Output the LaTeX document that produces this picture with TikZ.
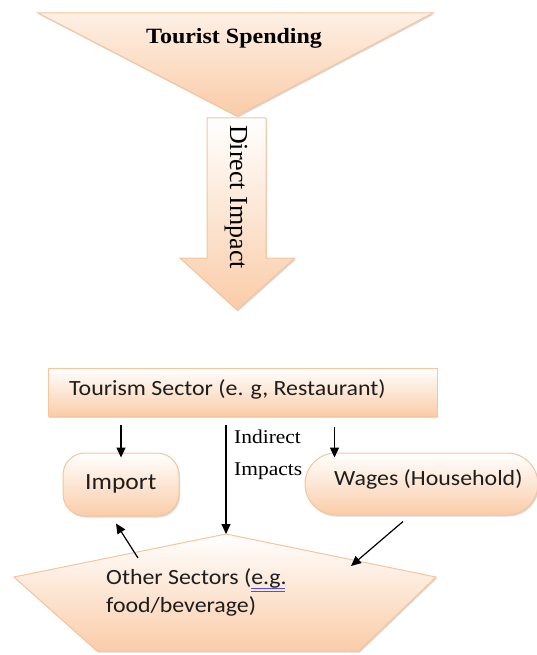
\documentclass[tikz,border=0pt]{standalone}
\usepackage{fontspec}
\newfontfamily\serifS{Liberation Serif}[FakeStretch=1.1]
\newfontfamily\serifN{Liberation Serif}
\newfontfamily\sansS{Carlito}[FakeStretch=1.1]
\usetikzlibrary{shadows,arrows.meta,calc}
\definecolor{peach}{RGB}{250,204,168}
\definecolor{peachedge}{RGB}{247,196,156}
\definecolor{textgray}{RGB}{30,30,30}
\begin{document}
\begin{tikzpicture}[x=1pt,y=-1pt,
  shapebox/.style={draw=peachedge, line width=1pt, top color=white, bottom color=peach,
    drop shadow={shadow xshift=1pt, shadow yshift=-1.5pt, opacity=0.3}},
  conn/.style={line width=1.2pt, -{Triangle[length=10pt,width=9pt]}},
  txt/.style={inner sep=0pt, anchor=base west},
  sanstxt/.style={txt, text=textgray, font=\sansS\fontsize{21.7}{28}\selectfont}]

\useasboundingbox (0,0) rectangle (537,655);

% top funnel triangle
\path[shapebox, top color=peach!30] (38,13) -- (433,13) -- (237,116) -- cycle;
\node[txt, font=\serifS\bfseries\fontsize{21.8}{24}\selectfont] (tsp) at (146,44) {Tourist Spending};

% direct impact arrow
\path[shapebox] (207,118) -- (266,118) -- (266,258) -- (295,258) -- (237,310)
  -- (180,258) -- (207,258) -- cycle;
\node[txt, rotate=-90, font=\serifN\fontsize{26}{30}\selectfont] (di) at (230,125) {Direct Impact};

% tourism sector
\node[shapebox, minimum width=389pt, minimum height=48pt, inner sep=0pt] (ts) at (242.5,392) {};
\node[sanstxt] (tst) at (69,395) {Tourism Sector (e. g, Restaurant)};

% import
\node[shapebox, rounded corners=22pt, minimum width=116pt, minimum height=63pt, inner sep=0pt] (imp) at (121,484.5) {};
\node[txt, text=textgray, font=\sansS\fontsize{23.2}{28}\selectfont] (impt) at (85,489) {Import};

% wages
\node[shapebox, rounded corners=31pt, minimum width=233pt, minimum height=62pt, inner sep=0pt] (wg) at (421.5,484) {};
\node[sanstxt] (wgt) at (334,485) {Wages (Household)};

% other sectors pentagon
\coordinate (ptop) at (226,534);
\coordinate (pr) at (436,577);
\coordinate (pbr) at (359,651);
\coordinate (pbl) at (97,651);
\coordinate (pl) at (14,577);
\path[shapebox] (ptop) -- (pr) -- (pbr) -- (pbl) -- (pl) -- cycle;
\node[sanstxt, align=left] (ost) at (106,612) {Other Sectors (e.g.\\food/beverage)};
\draw[blue!70, line width=0.6pt] (251,588.5) -- (285,588.5) (251,590.8) -- (285,590.8);

% indirect impacts label
\node[txt, font=\serifS\fontsize{19.5}{22}\selectfont] (ind) at (234,443) {Indirect};
\node[txt, font=\serifS\fontsize{19.5}{22}\selectfont] (imps) at (234,475) {Impacts};

% connectors
\coordinate (wgx) at ([xshift=30pt]wg.north west);
\coordinate (pimp) at (138,558);
\coordinate (pwg) at (351,566);
\draw[conn] ([yshift=-8pt]ts.south -| imp.north) -- ([yshift=-5pt]imp.north);
\draw[conn] ([yshift=-8pt]ts.south -| ptop) -- (ptop);
\draw[conn] ([yshift=-10pt]ts.south -| wgx) -- ([yshift=-5pt]wgx);
\draw[conn] (pimp) -- ([xshift=-5pt,yshift=-7pt]imp.south);
\draw[conn] ([xshift=-18.5pt,yshift=-6pt]wg.south) -- (pwg);
\end{tikzpicture}
\end{document}
